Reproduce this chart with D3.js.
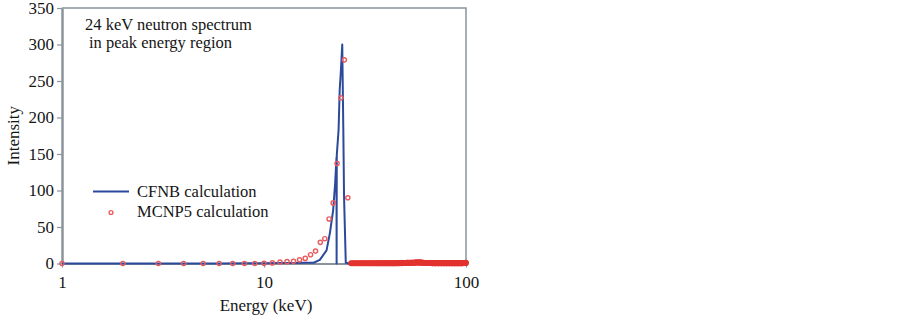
<!DOCTYPE html>
<html lang="en">
<head>
    <meta charset="UTF-8">
    <title>24 keV neutron spectrum</title>
    <script src="https://d3js.org/d3.v7.min.js"></script>
    <style>
        body {
            margin: 0;
            padding: 0;
            background-color: #fff;
        }
        text {
            font-family: "Liberation Serif", "Times New Roman", serif;
            fill: #151515;
        }
        .axis text {
            font-size: 17px;
        }
        .axis line, .axis path {
            stroke: #8b949b;
        }
    </style>
</head>
<body>
    <script>
        // axis ticks
        const yTicks = [0, 50, 100, 150, 200, 250, 300, 350];
        const xTicks = [1, 10, 100];

        // CFNB calculation (line), points in drawing order
        const cfnbEnergy = [1, 3, 6, 8, 10, 12, 14, 16, 17.6, 18.9, 20.4, 21.2, 22.0, 22.5, 22.85, 22.88, 22.92,
            23.4, 23.7, 24.0, 24.4, 24.7, 24.9, 25.4, 26.4, 30, 50, 100];
        const cfnbIntensity = [0, 0, 0, 0.2, 0.4, 0.6, 0.8, 0.9, 1, 5, 18, 42, 73, 110, 145, 0, 148,
            183, 238, 262, 300, 183, 92, 1, 0, 0, 0, 0];

        // MCNP5 calculation (circles), integer energies 1..26
        const mcnpEnergy = [1, 2, 3, 4, 5, 6, 7, 8, 9, 10, 11, 12, 13, 14, 15, 16, 17, 18, 19, 20, 21, 22, 23, 24, 25, 26];
        const mcnpIntensity = [0, 0, 0, 0, 0, 0, 0, 0, 0, 0.3, 0.8, 2, 2.5, 3, 5, 7, 12, 17, 29, 34, 61, 83, 137, 227, 279, 90];

        // MCNP5 high-energy tail, 27..100 keV in 0.5 keV steps
        const tailEnergy = d3.range(27, 100.25, 0.5);
        const tailIntensity = [
            0.3, 0.3, 0.2, 0.2, 0.3, 0.3, 0.2, 0.3, 0.3, 0.2, 0.3, 0.3, 0.2, 0.2, 0.3, 0.3, 0.4, 0.3, 0.3, 0.3,
            0.4, 0.3, 0.3, 0.4, 0.4, 0.3, 0.4, 0.4, 0.3, 0.4, 0.5, 0.4, 0.4, 0.5, 0.5, 0.4, 0.5, 0.6, 0.5, 0.5,
            0.6, 0.6, 0.5, 0.6, 0.7, 0.7, 0.8, 0.8, 0.9, 0.9, 0.9, 0.8, 0.9, 1.0, 1.0, 1.0, 1.1, 1.1, 1.2, 1.2,
            1.3, 1.3, 1.3, 1.4, 1.3, 1.3, 1.2, 1.1, 1.0, 0.9, 0.8, 0.8, 0.7, 0.7, 0.7, 0.7, 0.7, 0.6, 0.6, 0.6,
            0.6, 0.6, 0.5, 0.5, 0.6, 0.6, 0.5, 0.5, 0.5, 0.6, 0.6, 0.5, 0.5, 0.5, 0.6, 0.6, 0.5, 0.5, 0.5, 0.6,
            0.6, 0.5, 0.5, 0.5, 0.6, 0.6, 0.5, 0.5, 0.5, 0.6, 0.6, 0.5, 0.5, 0.5, 0.6, 0.6, 0.5, 0.5, 0.5, 0.6,
            0.6, 0.5, 0.5, 0.5, 0.6, 0.6, 0.5, 0.5, 0.5, 0.6, 0.6, 0.5, 0.5, 0.5, 0.6, 0.6, 0.5, 0.5, 0.5, 0.6,
            0.6, 0.6, 0.7, 0.7, 0.8, 0.9, 0.8
        ];

        const W = 902, H = 318;
        const plot = { left: 62, right: 466, top: 8, bottom: 263.5 };

        const svg = d3.select("body").append("svg")
            .attr("width", W)
            .attr("height", H);

        svg.append("rect").attr("width", W).attr("height", H).attr("fill", "#fff");

        const x = d3.scaleLog().domain([1, 100]).range([plot.left, plot.right]);
        const y = d3.scaleLinear().domain([0, 350]).range([plot.bottom, plot.top]);

        // box (top + right)
        svg.append("path")
            .attr("d", `M${plot.left},${plot.top}H${plot.right}V${plot.bottom}`)
            .attr("fill", "none")
            .attr("stroke", "#8b949b")
            .attr("stroke-width", 1.5);

        // y axis
        const yAxis = svg.append("g")
            .attr("class", "axis")
            .attr("transform", `translate(${plot.left},0)`)
            .call(d3.axisLeft(y).tickValues(yTicks).tickSize(5).tickSizeOuter(0).tickPadding(3));
        yAxis.select(".domain").attr("stroke-width", 2.5);
        yAxis.selectAll(".tick line").attr("stroke-width", 1.2);

        // x axis
        const xAxis = svg.append("g")
            .attr("class", "axis")
            .attr("transform", `translate(0,${plot.bottom})`)
            .call(d3.axisBottom(x).tickValues(xTicks).tickFormat(d3.format("d")).tickSize(4).tickSizeOuter(0));
        xAxis.select(".domain").attr("stroke-width", 2);
        xAxis.selectAll(".tick line").attr("stroke-width", 1.2);
        xAxis.selectAll(".tick text").attr("y", 12.5);

        // axis titles
        svg.append("text")
            .attr("x", (plot.left + plot.right) / 2 + 2)
            .attr("y", 311)
            .attr("text-anchor", "middle")
            .style("font-size", "17px")
            .text("Energy (keV)");

        svg.append("text")
            .attr("transform", `translate(19,${(plot.top + plot.bottom) / 2}) rotate(-90)`)
            .attr("text-anchor", "middle")
            .style("font-size", "17px")
            .text("Intensity");

        // CFNB line
        const line = d3.line()
            .x((d, i) => x(cfnbEnergy[i]))
            .y((d, i) => y(cfnbIntensity[i]));

        svg.append("path")
            .datum(cfnbEnergy)
            .attr("d", line)
            .attr("fill", "none")
            .attr("stroke", "#2c4a9c")
            .attr("stroke-width", 2)
            .attr("stroke-linejoin", "round");

        // MCNP5 circles
        const red = "#ea5b5e";
        svg.append("g").selectAll("circle")
            .data(mcnpEnergy.map((e, i) => ({ e, v: mcnpIntensity[i] })))
            .join("circle")
            .attr("cx", d => x(d.e))
            .attr("cy", d => y(d.v))
            .attr("r", 2.1)
            .attr("fill", "none")
            .attr("stroke", red)
            .attr("stroke-width", 1.4);

        // dense tail reads as a solid red band
        svg.append("g").selectAll("circle")
            .data(tailEnergy.map((e, i) => ({ e, v: tailIntensity[i] })))
            .join("circle")
            .attr("cx", d => x(d.e))
            .attr("cy", d => y(d.v))
            .attr("r", 2.1)
            .attr("fill", "none")
            .attr("stroke", "#e2332f")
            .attr("stroke-width", 1.8);

        // annotation
        const note = svg.append("text").style("font-size", "16.5px");
        note.append("tspan").attr("x", 85).attr("y", 30).text("24 keV neutron spectrum");
        note.append("tspan").attr("x", 89).attr("y", 48).text("in peak energy region");

        // legend
        const legend = svg.append("g");
        legend.append("line")
            .attr("x1", 93).attr("x2", 129)
            .attr("y1", 191.5).attr("y2", 191.5)
            .attr("stroke", "#2c4a9c")
            .attr("stroke-width", 2);
        legend.append("text")
            .attr("x", 137).attr("y", 197)
            .style("font-size", "16.5px")
            .text("CFNB calculation");
        legend.append("circle")
            .attr("cx", 111).attr("cy", 212.5)
            .attr("r", 1.9)
            .attr("fill", "none")
            .attr("stroke", red)
            .attr("stroke-width", 1.4);
        legend.append("text")
            .attr("x", 137).attr("y", 217)
            .style("font-size", "16.5px")
            .text("MCNP5 calculation");
    </script>
</body>
</html>
